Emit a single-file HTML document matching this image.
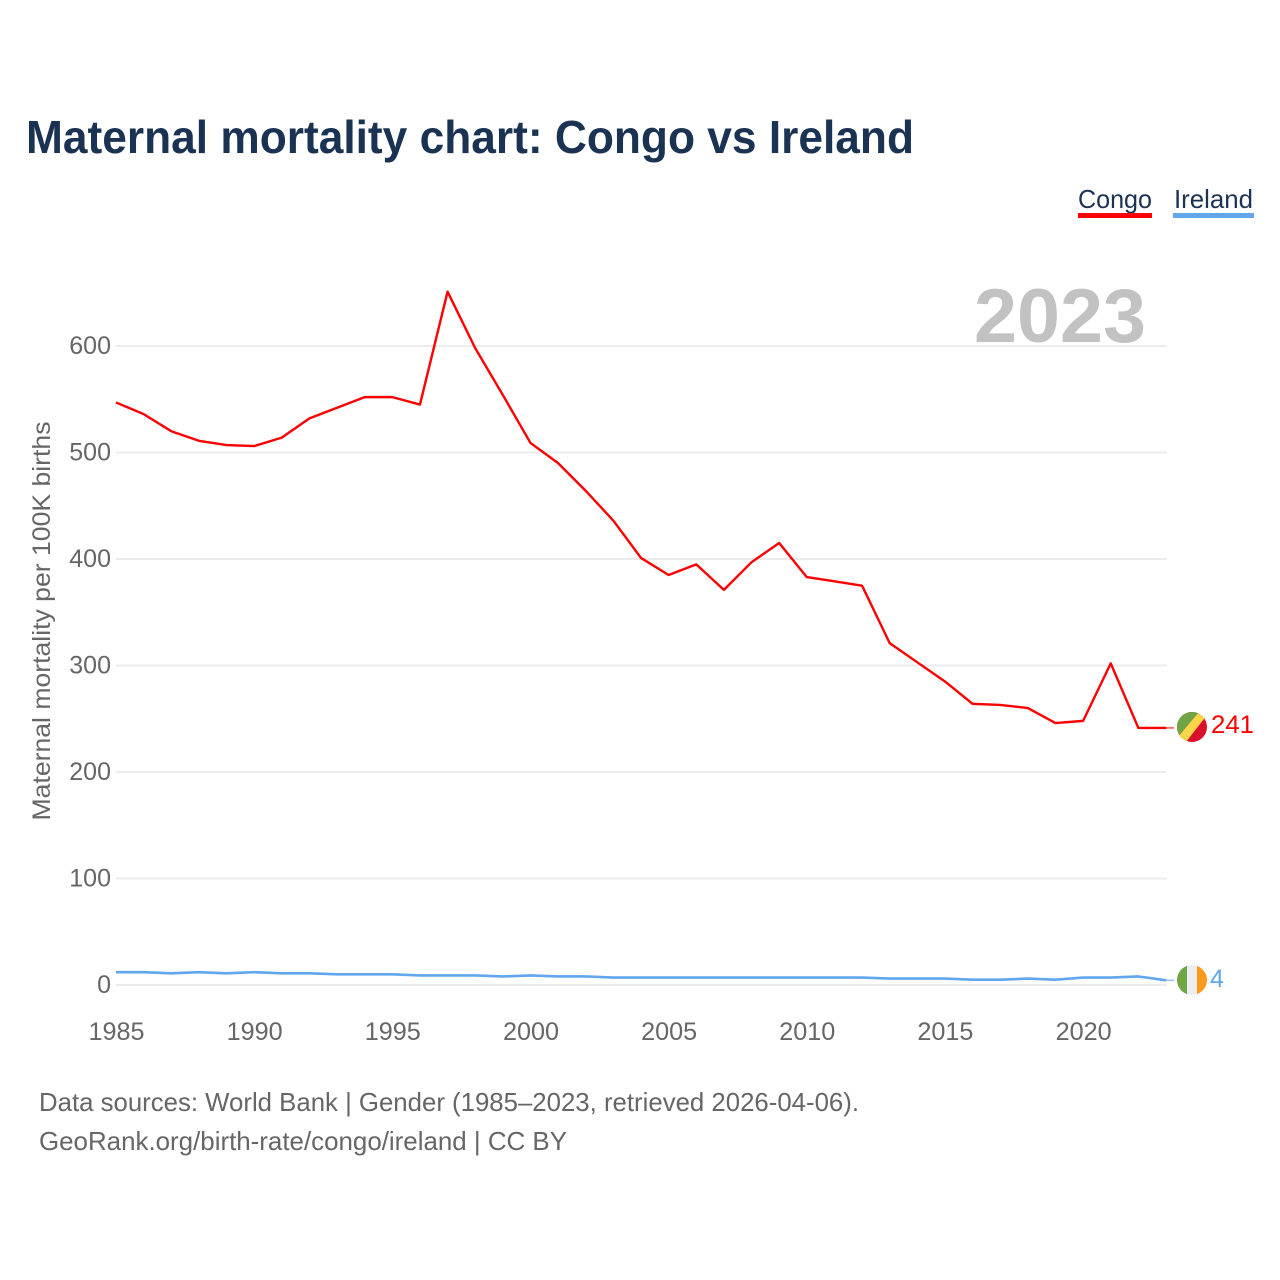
<!DOCTYPE html>
<html lang="en">
<head>
<meta charset="utf-8">
<title>Maternal mortality chart: Congo vs Ireland</title>
<style>
html,body{margin:0;padding:0;background:#fff}
svg{display:block}
text{font-family:"Liberation Sans",sans-serif}
</style>
</head>
<body>
<svg id="chart" width="1280" height="1280" viewBox="0 0 1280 1280" xmlns="http://www.w3.org/2000/svg">
  <rect width="1280" height="1280" fill="#fff"/>
  <text x="26" y="153" font-size="46" font-weight="700" fill="#1a3353" textLength="888" lengthAdjust="spacingAndGlyphs">Maternal mortality chart: Congo vs Ireland</text>

  <g>
    <text x="1078" y="208" font-size="26" fill="#1a3353" textLength="74" lengthAdjust="spacingAndGlyphs">Congo</text>
    <rect x="1078" y="213" width="74" height="5" fill="#ff0000"/>
  </g>
  <g>
    <text x="1174" y="208" font-size="26" fill="#1a3353" textLength="79" lengthAdjust="spacingAndGlyphs">Ireland</text>
    <rect x="1173" y="213" width="81" height="5" fill="#62a6ee"/>
  </g>

  <text x="1146" y="342" font-size="76" font-weight="700" fill="#c2c2c2" text-anchor="end" textLength="172" lengthAdjust="spacingAndGlyphs">2023</text>

  <g id="grid"></g>
  <g id="yticks"></g>
  <g id="xticks"></g>
  <text transform="translate(50,621) rotate(-90)" font-size="25" fill="#666" text-anchor="middle" textLength="399" lengthAdjust="spacingAndGlyphs">Maternal mortality per 100K births</text>
  <g id="series"></g>

  <defs>
    <clipPath id="flag-clip-congo"><circle cx="1192" cy="727" r="15"/></clipPath>
    <clipPath id="flag-clip-ireland"><circle cx="1192" cy="980" r="15"/></clipPath>
  </defs>
  <g id="flag-congo" clip-path="url(#flag-clip-congo)">
    <rect x="1177" y="712" width="30" height="30" fill="#d90f2b"/>
    <polygon points="1177,712 1199,712 1177,738" fill="#6fa544"/>
    <polygon points="1199,712 1207,712 1207,715 1186,742 1177,742 1177,738" fill="#fcd64a"/>
  </g>
  <g id="flag-ireland" clip-path="url(#flag-clip-ireland)">
    <rect x="1177" y="965" width="10" height="30" fill="#6fa544"/>
    <rect x="1187" y="965" width="10" height="30" fill="#eeeeee"/>
    <rect x="1197" y="965" width="10" height="30" fill="#fb9a1c"/>
  </g>
  <text id="end-label-congo" x="1211" y="733" font-size="25" fill="#ff0000" textLength="43" lengthAdjust="spacingAndGlyphs"></text>
  <text id="end-label-ireland" x="1210" y="987" font-size="25" fill="#62a6ee"></text>

  <g>
    <text x="39" y="1111" font-size="26" fill="#666" textLength="820" lengthAdjust="spacingAndGlyphs">Data sources: World Bank | Gender (1985–2023, retrieved 2026-04-06).</text>
    <text x="39" y="1150" font-size="26" fill="#666" textLength="528" lengthAdjust="spacingAndGlyphs">GeoRank.org/birth-rate/congo/ireland | CC BY</text>
  </g>
</svg>
<script>
const years = [1985,1986,1987,1988,1989,1990,1991,1992,1993,1994,1995,1996,1997,1998,1999,2000,2001,2002,2003,2004,2005,2006,2007,2008,2009,2010,2011,2012,2013,2014,2015,2016,2017,2018,2019,2020,2021,2022,2023];
const congoValues = [547,536,520,511,507,506,514,532,542,552,552,545,651,598,554,509,490,464,436,401,385,395,371,397,415,383,379,375,321,303,285,264,263,260,246,248,302,241.4,241.4];
const irelandValues = [12,12,11,12,11,12,11,11,10,10,10,9,9,9,8,9,8,8,7,7,7,7,7,7,7,7,7,7,6,6,6,5,5,6,5,7,7,8,4.4];
const yTickValues = [0,100,200,300,400,500,600];
const xTickValues = [1985,1990,1995,2000,2005,2010,2015,2020];

const NS = 'http://www.w3.org/2000/svg';
const xScale = function (year) { return 116 + (year - 1985) * (1050 / 38); };
const yScale = function (value) { return 985 - value * 1.065; };

function make(parent, tag, attrs) {
  const el = document.createElementNS(NS, tag);
  Object.keys(attrs).forEach(function (k) { el.setAttribute(k, attrs[k]); });
  parent.appendChild(el);
  return el;
}

const grid = document.getElementById('grid');
const yticks = document.getElementById('yticks');
const xticks = document.getElementById('xticks');
const series = document.getElementById('series');

yTickValues.forEach(function (v) {
  const line = make(grid, 'line', { x1: 116, x2: 1166.5, y1: yScale(v), y2: yScale(v), stroke: '#ececec', 'stroke-width': 2 });
  
  
  const label = make(yticks, 'text', { x: 111, y: yScale(v) + 8, 'font-size': 25, fill: '#666', 'text-anchor': 'end' });
  
  
  label.textContent = v;
});

xTickValues.forEach(function (y) {
  const label = make(xticks, 'text', { x: xScale(y) + 0.5, y: 1040, 'font-size': 25, fill: '#666', 'text-anchor': 'middle', textLength: 56, lengthAdjust: 'spacingAndGlyphs' });
  
  
  label.textContent = y;
});

function pathFor(values) {
  return values.map(function (v, i) { return xScale(years[i]).toFixed(2) + ',' + yScale(v).toFixed(2); }).join(' ');
}

const congoLine = make(series, 'polyline', { points: pathFor(congoValues), fill: 'none', stroke: '#ff0000', 'stroke-width': 2.4, 'stroke-linejoin': 'round' });


const irelandLine = make(series, 'polyline', { points: pathFor(irelandValues), fill: 'none', stroke: '#62a6ee', 'stroke-width': 2.6, 'stroke-linejoin': 'round' });



const lastCongo = congoValues[congoValues.length - 1];
const lastIreland = irelandValues[irelandValues.length - 1];
const congoLead = make(series, 'line', { x1: 1166, x2: 1174, y1: yScale(lastCongo), y2: yScale(lastCongo), stroke: '#ff0000', 'stroke-width': 1.5, opacity: 0.7 });


const irelandLead = make(series, 'line', { x1: 1166, x2: 1174, y1: yScale(lastIreland), y2: yScale(lastIreland), stroke: '#62a6ee', 'stroke-width': 1.5, opacity: 0.7 });



document.getElementById('end-label-congo').textContent = Math.round(lastCongo);
document.getElementById('end-label-ireland').textContent = Math.round(lastIreland);
</script>
</body>
</html>
